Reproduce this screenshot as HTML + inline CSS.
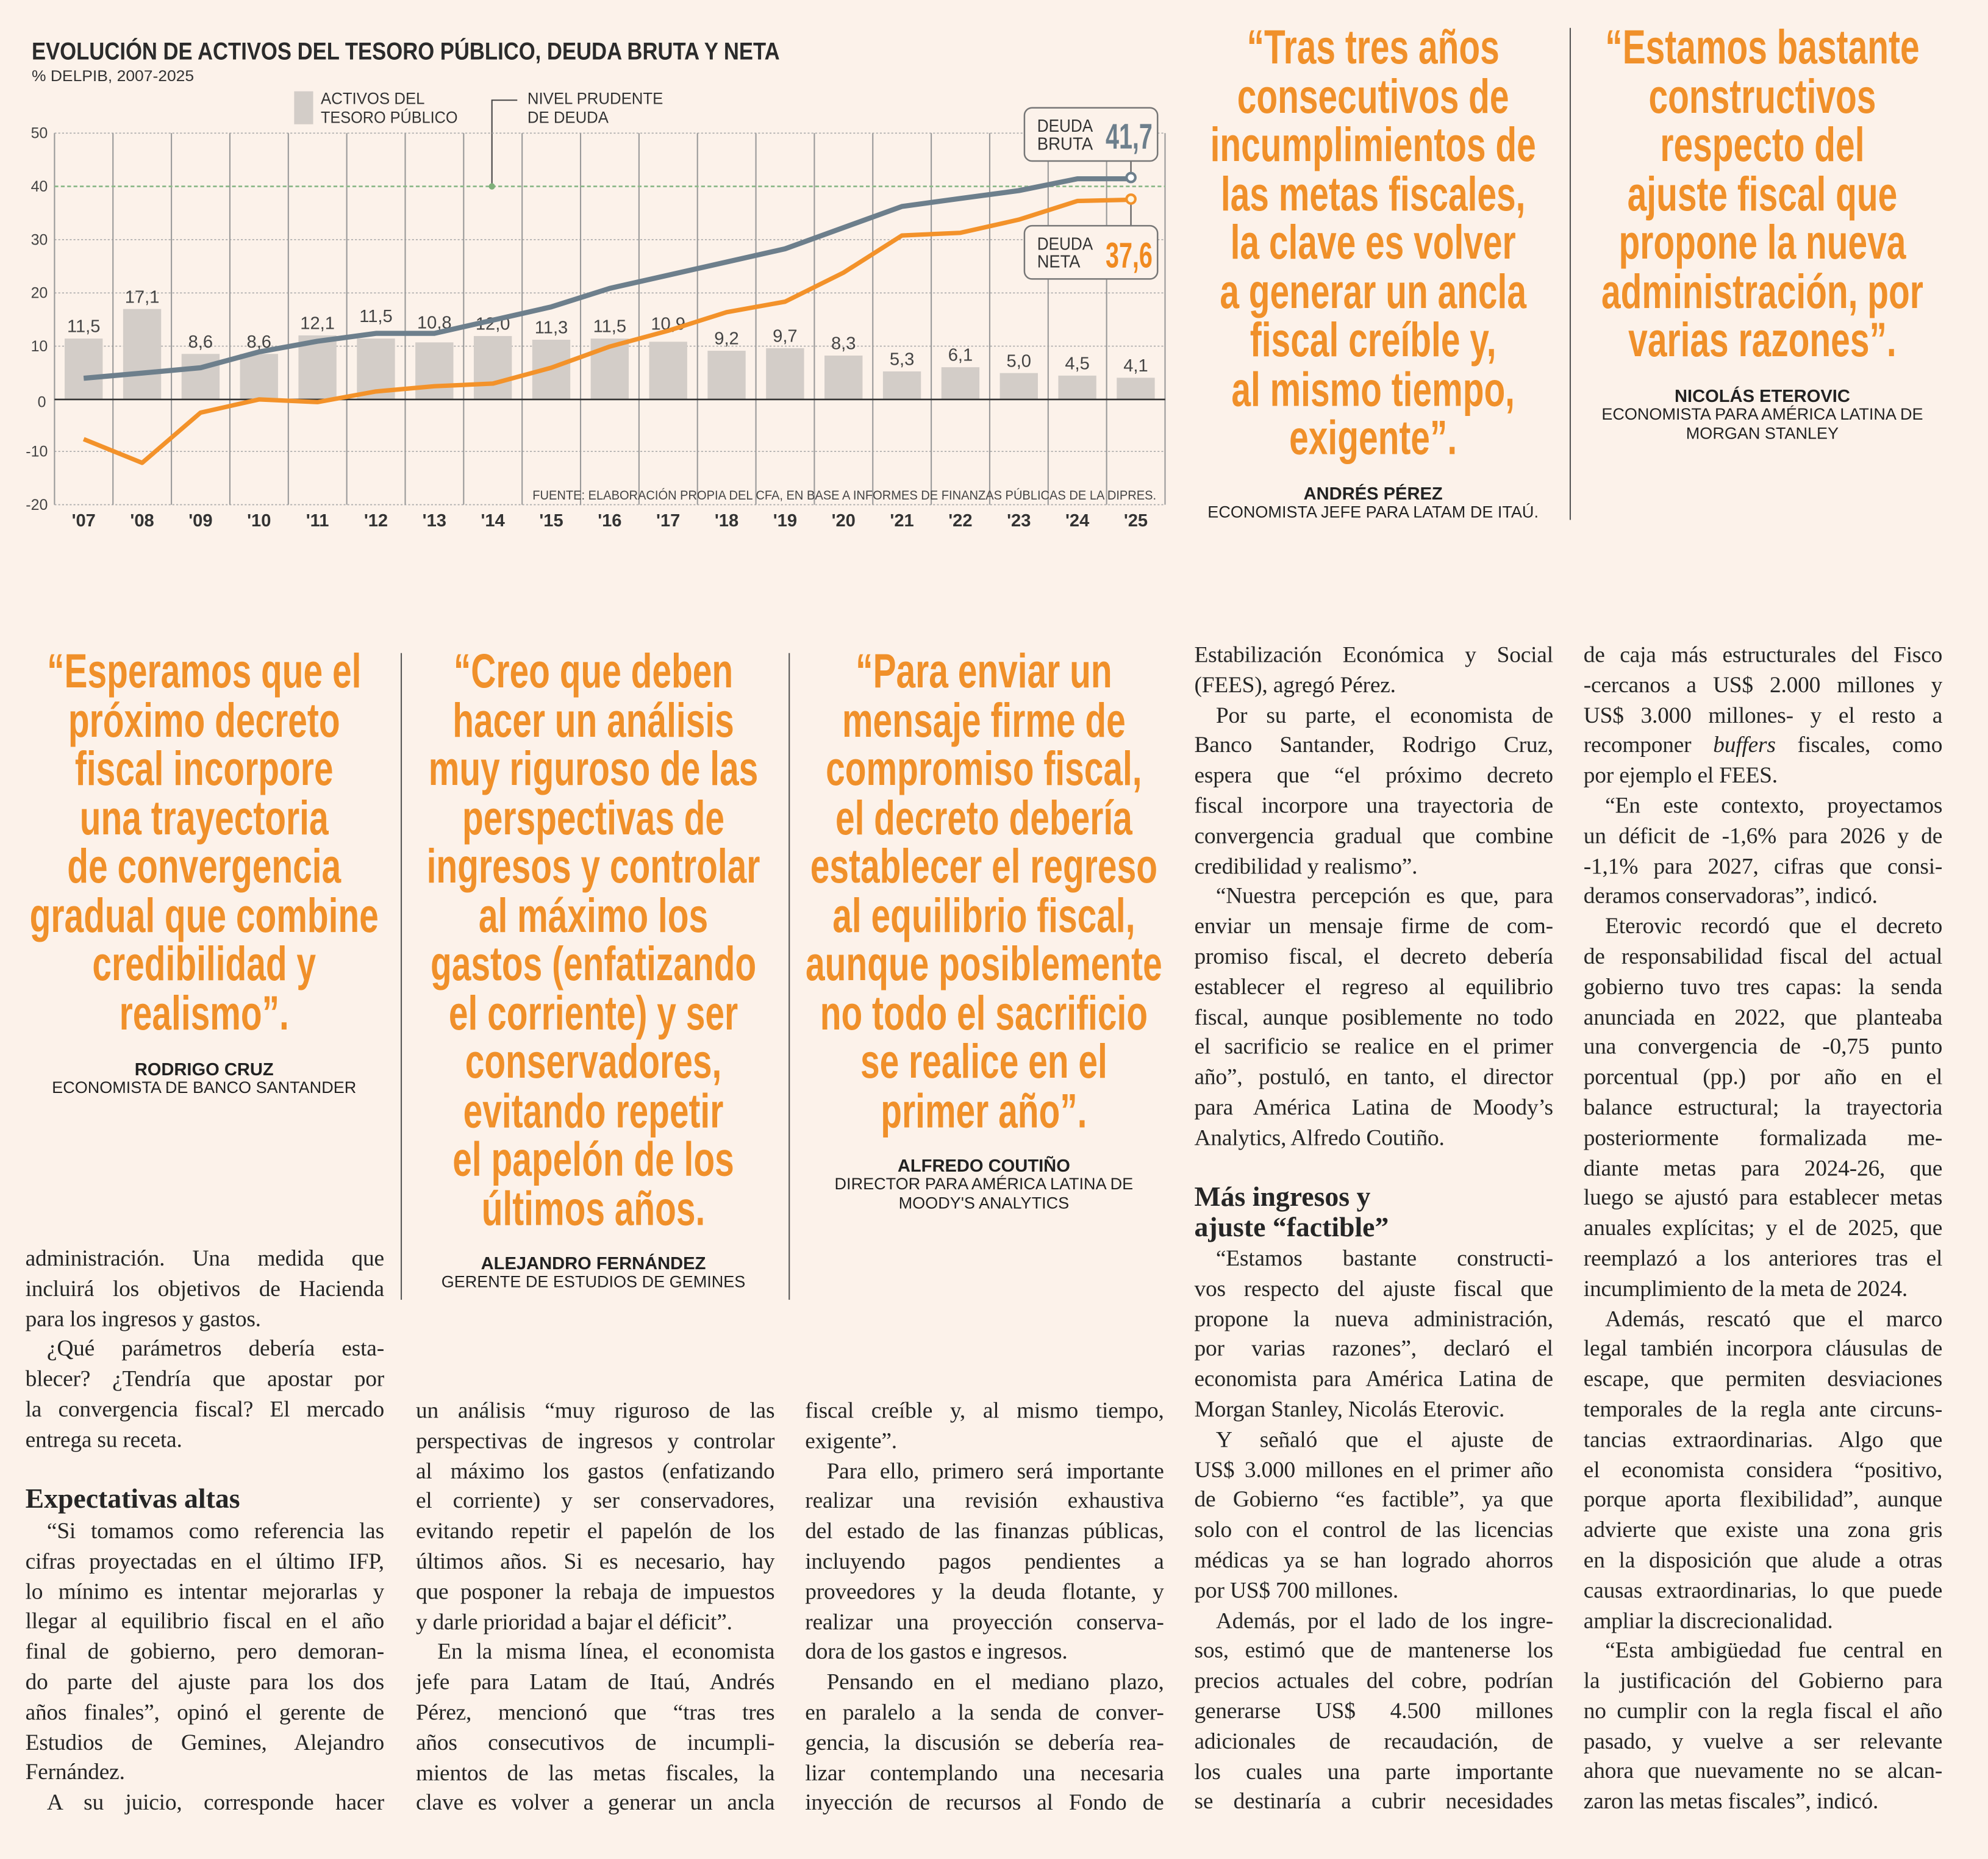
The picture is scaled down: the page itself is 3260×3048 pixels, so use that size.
<!DOCTYPE html>
<html><head><meta charset="utf-8">
<style>
html,body{margin:0;padding:0;background:#fcf2ea;}
body{width:3260px;height:3048px;overflow:hidden;}
#p{position:absolute;left:0;top:0;width:1568px;height:1466px;transform:scale(2.0791);transform-origin:0 0;background:#fcf2ea;overflow:hidden;}
.q{position:absolute;width:500px;text-align:center;color:#f0902a;font-family:"Liberation Sans Narrow","Liberation Sans",sans-serif;font-weight:bold;font-size:38px;}
.q div{height:38.5px;line-height:38.5px;white-space:nowrap;transform:scaleX(0.72);}
.nm{position:absolute;width:320px;text-align:center;font-family:"Liberation Sans","Liberation Sans Narrow",sans-serif;color:#222;}
.nm b{display:block;font-size:14px;line-height:16px;}
.nm span{display:block;font-family:"Liberation Sans Narrow",sans-serif;font-size:13px;line-height:14.5px;}
.c{position:absolute;width:283px;font-family:"Liberation Serif",serif;font-size:18px;color:#262626;letter-spacing:-0.1px;}
.c div{height:23.8px;line-height:23.8px;white-space:nowrap;text-align:justify;text-align-last:justify;overflow:hidden;}
.c div.e{text-align-last:left;}
.c div.i{padding-left:17px;}
.h{position:absolute;font-family:"Liberation Serif",serif;font-weight:bold;font-size:22px;color:#262626;line-height:24px;}
.vs{position:absolute;width:1px;background:#555;}
</style></head><body><div id="p">

<svg width="930" height="430" style="position:absolute;left:0;top:0" font-family="Liberation Sans Narrow, Liberation Sans, sans-serif">
<text x="25" y="47" font-size="19" font-weight="bold" fill="#2b2b2b" textLength="590" lengthAdjust="spacingAndGlyphs">EVOLUCIÓN DE ACTIVOS DEL TESORO PÚBLICO, DEUDA BRUTA Y NETA</text>
<text x="25" y="64" font-size="12" fill="#333" textLength="128" lengthAdjust="spacingAndGlyphs">% DELPIB, 2007-2025</text>
<rect x="232" y="72" width="15" height="26" fill="#d3cdc8"/>
<text x="253" y="82" font-size="13" fill="#333" textLength="82" lengthAdjust="spacingAndGlyphs">ACTIVOS DEL</text>
<text x="253" y="97" font-size="13" fill="#333" textLength="108" lengthAdjust="spacingAndGlyphs">TESORO PÚBLICO</text>
<polyline points="388,147 388,79 408,79" fill="none" stroke="#444" stroke-width="1"/>
<text x="416" y="82" font-size="13" fill="#333" textLength="107" lengthAdjust="spacingAndGlyphs">NIVEL PRUDENTE</text>
<text x="416" y="97" font-size="13" fill="#333" textLength="64" lengthAdjust="spacingAndGlyphs">DE DEUDA</text>
<g stroke="#aaa" stroke-width="0.8" stroke-dasharray="1.5 1.5">
<line x1="43" y1="105" x2="919" y2="105"/><line x1="43" y1="189" x2="919" y2="189"/>
<line x1="43" y1="231" x2="919" y2="231"/><line x1="43" y1="273" x2="919" y2="273"/>
<line x1="43" y1="356" x2="919" y2="356"/><line x1="43" y1="398" x2="919" y2="398"/>
</g>
<g stroke="#999" stroke-width="1">
<line x1="43" y1="105" x2="43" y2="398"/><line x1="89.1" y1="105" x2="89.1" y2="398"/><line x1="135.2" y1="105" x2="135.2" y2="398"/><line x1="181.3" y1="105" x2="181.3" y2="398"/><line x1="227.4" y1="105" x2="227.4" y2="398"/><line x1="273.5" y1="105" x2="273.5" y2="398"/><line x1="319.6" y1="105" x2="319.6" y2="398"/><line x1="365.7" y1="105" x2="365.7" y2="398"/><line x1="411.8" y1="105" x2="411.8" y2="398"/><line x1="457.9" y1="105" x2="457.9" y2="398"/><line x1="504" y1="105" x2="504" y2="398"/><line x1="550.1" y1="105" x2="550.1" y2="398"/><line x1="596.2" y1="105" x2="596.2" y2="398"/><line x1="642.3" y1="105" x2="642.3" y2="398"/><line x1="688.4" y1="105" x2="688.4" y2="398"/><line x1="734.5" y1="105" x2="734.5" y2="398"/><line x1="780.6" y1="105" x2="780.6" y2="398"/><line x1="826.7" y1="105" x2="826.7" y2="398"/><line x1="872.8" y1="105" x2="872.8" y2="398"/><line x1="918.9" y1="105" x2="918.9" y2="398"/>
</g>
<line x1="43" y1="147" x2="919" y2="147" stroke="#8db98a" stroke-width="1.3" stroke-dasharray="3 2"/>
<circle cx="388" cy="147" r="2.5" fill="#7fb07a"/>
<g fill="#d3cdc8">
<rect x="51" y="267" width="30" height="48"/><rect x="97.1" y="243.7" width="30" height="71.3"/><rect x="143.2" y="279.1" width="30" height="35.9"/><rect x="189.3" y="279.1" width="30" height="35.9"/><rect x="235.4" y="264.5" width="30" height="50.5"/><rect x="281.5" y="267" width="30" height="48"/><rect x="327.6" y="270" width="30" height="45"/><rect x="373.7" y="265" width="30" height="50"/><rect x="419.8" y="267.9" width="30" height="47.1"/><rect x="465.9" y="267" width="30" height="48"/><rect x="512" y="269.5" width="30" height="45.5"/><rect x="558.1" y="276.6" width="30" height="38.4"/><rect x="604.2" y="274.6" width="30" height="40.4"/><rect x="650.3" y="280.4" width="30" height="34.6"/><rect x="696.4" y="292.9" width="30" height="22.1"/><rect x="742.5" y="289.6" width="30" height="25.4"/><rect x="788.6" y="294.2" width="30" height="20.8"/><rect x="834.7" y="296.2" width="30" height="18.8"/><rect x="880.8" y="297.9" width="30" height="17.1"/>
</g>
<g font-size="14" fill="#444" text-anchor="middle">
<text x="66" y="262">11,5</text><text x="112.1" y="238.7">17,1</text><text x="158.2" y="274.1">8,6</text><text x="204.3" y="274.1">8,6</text><text x="250.4" y="259.5">12,1</text><text x="296.5" y="254">11,5</text><text x="342.6" y="259">10,8</text><text x="388.7" y="260">12,0</text><text x="434.8" y="262.9">11,3</text><text x="480.9" y="262">11,5</text><text x="527" y="260">10,9</text><text x="573.1" y="271.6">9,2</text><text x="619.2" y="269.6">9,7</text><text x="665.3" y="275.4">8,3</text><text x="711.4" y="287.9">5,3</text><text x="757.5" y="284.6">6,1</text><text x="803.6" y="289.2">5,0</text><text x="849.7" y="291.2">4,5</text><text x="895.8" y="292.9">4,1</text>
</g>
<line x1="43" y1="315" x2="919" y2="315" stroke="#333" stroke-width="1.3"/>
<polyline fill="none" stroke="#6d7f8c" stroke-width="4" stroke-linejoin="round" points="66,298.3 112.1,294.2 158.2,290 204.3,277.5 250.4,269.1 296.5,262.9 342.6,262.9 388.7,252.5 434.8,242 480.9,227.4 527,217 573.1,206.6 619.2,196.2 665.3,179.5 711.4,162.8 757.5,156.5 803.6,150.3 849.7,141 892,141"/>
<polyline fill="none" stroke="#f3922a" stroke-width="3.5" stroke-linejoin="round" points="66,346.3 112.1,365 158.2,325.4 204.3,315 250.4,317.1 296.5,308.7 342.6,304.6 388.7,302.5 434.8,290 480.9,273.3 527,260.8 573.1,246.2 619.2,237.9 665.3,215 711.4,185.7 757.5,183.6 803.6,173.2 849.7,158.5 892,157.5"/>
<line x1="892" y1="127" x2="892" y2="137" stroke="#555"/>
<line x1="892" y1="161" x2="892" y2="178" stroke="#555"/>
<circle cx="892" cy="140" r="3.5" fill="#fff" stroke="#6d7f8c" stroke-width="2"/>
<circle cx="892" cy="157" r="3.5" fill="#fff6e0" stroke="#f3922a" stroke-width="2"/>
<rect x="808" y="85" width="105" height="42" rx="6" fill="#fcf2ea" stroke="#777" stroke-width="1.2"/>
<text x="818" y="104" font-size="14" fill="#333" textLength="44" lengthAdjust="spacingAndGlyphs">DEUDA</text><text x="818" y="118" font-size="14" fill="#333" textLength="44" lengthAdjust="spacingAndGlyphs">BRUTA</text>
<text x="872" y="117" font-size="28" font-weight="bold" fill="#6d7f8c" textLength="37" lengthAdjust="spacingAndGlyphs">41,7</text>
<rect x="808" y="178" width="105" height="42" rx="6" fill="#fcf2ea" stroke="#777" stroke-width="1.2"/>
<text x="818" y="197" font-size="14" fill="#333" textLength="44" lengthAdjust="spacingAndGlyphs">DEUDA</text><text x="818" y="211" font-size="14" fill="#333" textLength="34" lengthAdjust="spacingAndGlyphs">NETA</text>
<text x="872" y="211" font-size="28" font-weight="bold" fill="#f08a20" textLength="37" lengthAdjust="spacingAndGlyphs">37,6</text>
<text x="912" y="394" font-size="10" fill="#444" text-anchor="end" textLength="492" lengthAdjust="spacingAndGlyphs">FUENTE: ELABORACIÓN PROPIA DEL CFA, EN BASE A INFORMES DE FINANZAS PÚBLICAS DE LA DIPRES.</text>
<g font-size="12" fill="#444" text-anchor="middle">
<text x="31" y="109">50</text><text x="31" y="151">40</text><text x="31" y="193">30</text><text x="31" y="235">20</text><text x="31" y="277">10</text><text x="33" y="321">0</text><text x="29" y="360">-10</text><text x="29" y="402">-20</text>
</g>
<g font-size="14" font-weight="bold" fill="#333" text-anchor="middle">
<text x="66" y="415">'07</text><text x="112.1" y="415">'08</text><text x="158.2" y="415">'09</text><text x="204.3" y="415">'10</text><text x="250.4" y="415">'11</text><text x="296.5" y="415">'12</text><text x="342.6" y="415">'13</text><text x="388.7" y="415">'14</text><text x="434.8" y="415">'15</text><text x="480.9" y="415">'16</text><text x="527" y="415">'17</text><text x="573.1" y="415">'18</text><text x="619.2" y="415">'19</text><text x="665.3" y="415">'20</text><text x="711.4" y="415">'21</text><text x="757.5" y="415">'22</text><text x="803.6" y="415">'23</text><text x="849.7" y="415">'24</text><text x="895.8" y="415">'25</text>
</g>
</svg>

<div class="q" style="left:833px;top:19px"><div>“Tras tres años</div><div>consecutivos de</div><div>incumplimientos de</div><div>las metas fiscales,</div><div>la clave es volver</div><div>a generar un ancla</div><div>fiscal creíble y,</div><div>al mismo tiempo,</div><div>exigente”.</div></div>
<div class="nm" style="left:923px;top:381px"><b>ANDRÉS PÉREZ</b><span>ECONOMISTA JEFE PARA LATAM DE ITAÚ.</span></div>
<div class="vs" style="left:1238px;top:22px;height:388px"></div>
<div class="q" style="left:1140px;top:19px"><div>“Estamos bastante</div><div>constructivos</div><div>respecto del</div><div>ajuste fiscal que</div><div>propone la nueva</div><div>administración, por</div><div>varias razones”.</div></div>
<div class="nm" style="left:1230px;top:304px"><b>NICOLÁS ETEROVIC</b><span>ECONOMISTA PARA AMÉRICA LATINA DE</span><span>MORGAN STANLEY</span></div>

<div class="q" style="left:-89px;top:511px"><div>“Esperamos que el</div><div>próximo decreto</div><div>fiscal incorpore</div><div>una trayectoria</div><div>de convergencia</div><div>gradual que combine</div><div>credibilidad y</div><div>realismo”.</div></div>
<div class="nm" style="left:1px;top:835px"><b>RODRIGO CRUZ</b><span>ECONOMISTA DE BANCO SANTANDER</span></div>
<div class="vs" style="left:316px;top:515px;height:510px"></div>
<div class="q" style="left:218px;top:511px"><div>“Creo que deben</div><div>hacer un análisis</div><div>muy riguroso de las</div><div>perspectivas de</div><div>ingresos y controlar</div><div>al máximo los</div><div>gastos (enfatizando</div><div>el corriente) y ser</div><div>conservadores,</div><div>evitando repetir</div><div>el papelón de los</div><div>últimos años.</div></div>
<div class="nm" style="left:308px;top:988px"><b>ALEJANDRO FERNÁNDEZ</b><span>GERENTE DE ESTUDIOS DE GEMINES</span></div>
<div class="vs" style="left:622px;top:515px;height:510px"></div>
<div class="q" style="left:526px;top:511px"><div>“Para enviar un</div><div>mensaje firme de</div><div>compromiso fiscal,</div><div>el decreto debería</div><div>establecer el regreso</div><div>al equilibrio fiscal,</div><div>aunque posiblemente</div><div>no todo el sacrificio</div><div>se realice en el</div><div>primer año”.</div></div>
<div class="nm" style="left:616px;top:911px"><b>ALFREDO COUTIÑO</b><span>DIRECTOR PARA AMÉRICA LATINA DE</span><span>MOODY'S ANALYTICS</span></div>

<div class="c" style="left:20px;top:981px">
<div>administración. Una medida que</div><div>incluirá los objetivos de Hacienda</div><div class="e">para los ingresos y gastos.</div><div class="i">¿Qué parámetros debería esta-</div><div>blecer? ¿Tendría que apostar por</div><div>la convergencia fiscal? El mercado</div><div class="e">entrega su receta.</div></div>
<div class="h" style="left:20px;top:1170px">Expectativas altas</div>
<div class="c" style="left:20px;top:1196px">
<div class="i">“Si tomamos como referencia las</div><div>cifras proyectadas en el último IFP,</div><div>lo mínimo es intentar mejorarlas y</div><div>llegar al equilibrio fiscal en el año</div><div>final de gobierno, pero demoran-</div><div>do parte del ajuste para los dos</div><div>años finales”, opinó el gerente de</div><div>Estudios de Gemines, Alejandro</div><div class="e">Fernández.</div><div class="i">A su juicio, corresponde hacer</div></div>

<div class="c" style="left:328px;top:1101px">
<div>un análisis “muy riguroso de las</div><div>perspectivas de ingresos y controlar</div><div>al máximo los gastos (enfatizando</div><div>el corriente) y ser conservadores,</div><div>evitando repetir el papelón de los</div><div>últimos años. Si es necesario, hay</div><div>que posponer la rebaja de impuestos</div><div class="e">y darle prioridad a bajar el déficit”.</div><div class="i">En la misma línea, el economista</div><div>jefe para Latam de Itaú, Andrés</div><div>Pérez, mencionó que “tras tres</div><div>años consecutivos de incumpli-</div><div>mientos de las metas fiscales, la</div><div>clave es volver a generar un ancla</div></div>

<div class="c" style="left:635px;top:1101px">
<div>fiscal creíble y, al mismo tiempo,</div><div class="e">exigente”.</div><div class="i">Para ello, primero será importante</div><div>realizar una revisión exhaustiva</div><div>del estado de las finanzas públicas,</div><div>incluyendo pagos pendientes a</div><div>proveedores y la deuda flotante, y</div><div>realizar una proyección conserva-</div><div class="e">dora de los gastos e ingresos.</div><div class="i">Pensando en el mediano plazo,</div><div>en paralelo a la senda de conver-</div><div>gencia, la discusión se debería rea-</div><div>lizar contemplando una necesaria</div><div>inyección de recursos al Fondo de</div></div>

<div class="c" style="left:942px;top:505px">
<div>Estabilización Económica y Social</div><div class="e">(FEES), agregó Pérez.</div><div class="i">Por su parte, el economista de</div><div>Banco Santander, Rodrigo Cruz,</div><div>espera que “el próximo decreto</div><div>fiscal incorpore una trayectoria de</div><div>convergencia gradual que combine</div><div class="e">credibilidad y realismo”.</div><div class="i">“Nuestra percepción es que, para</div><div>enviar un mensaje firme de com-</div><div>promiso fiscal, el decreto debería</div><div>establecer el regreso al equilibrio</div><div>fiscal, aunque posiblemente no todo</div><div>el sacrificio se realice en el primer</div><div>año”, postuló, en tanto, el director</div><div>para América Latina de Moody’s</div><div class="e">Analytics, Alfredo Coutiño.</div></div>
<div class="h" style="left:942px;top:932px">Más ingresos y<br>ajuste “factible”</div>
<div class="c" style="left:942px;top:981px">
<div class="i">“Estamos bastante constructi-</div><div>vos respecto del ajuste fiscal que</div><div>propone la nueva administración,</div><div>por varias razones”, declaró el</div><div>economista para América Latina de</div><div class="e">Morgan Stanley, Nicolás Eterovic.</div><div class="i">Y señaló que el ajuste de</div><div>US$ 3.000 millones en el primer año</div><div>de Gobierno “es factible”, ya que</div><div>solo con el control de las licencias</div><div>médicas ya se han logrado ahorros</div><div class="e">por US$ 700 millones.</div><div class="i">Además, por el lado de los ingre-</div><div>sos, estimó que de mantenerse los</div><div>precios actuales del cobre, podrían</div><div>generarse US$ 4.500 millones</div><div>adicionales de recaudación, de</div><div>los cuales una parte importante</div><div>se destinaría a cubrir necesidades</div></div>

<div class="c" style="left:1249px;top:505px">
<div>de caja más estructurales del Fisco</div><div>-cercanos a US$ 2.000 millones y</div><div>US$ 3.000 millones- y el resto a</div><div>recomponer <i>buffers</i> fiscales, como</div><div class="e">por ejemplo el FEES.</div><div class="i">“En este contexto, proyectamos</div><div>un déficit de -1,6% para 2026 y de</div><div>-1,1% para 2027, cifras que consi-</div><div class="e">deramos conservadoras”, indicó.</div><div class="i">Eterovic recordó que el decreto</div><div>de responsabilidad fiscal del actual</div><div>gobierno tuvo tres capas: la senda</div><div>anunciada en 2022, que planteaba</div><div>una convergencia de -0,75 punto</div><div>porcentual (pp.) por año en el</div><div>balance estructural; la trayectoria</div><div>posteriormente formalizada me-</div><div>diante metas para 2024-26, que</div><div>luego se ajustó para establecer metas</div><div>anuales explícitas; y el de 2025, que</div><div>reemplazó a los anteriores tras el</div><div class="e">incumplimiento de la meta de 2024.</div><div class="i">Además, rescató que el marco</div><div>legal también incorpora cláusulas de</div><div>escape, que permiten desviaciones</div><div>temporales de la regla ante circuns-</div><div>tancias extraordinarias. Algo que</div><div>el economista considera “positivo,</div><div>porque aporta flexibilidad”, aunque</div><div>advierte que existe una zona gris</div><div>en la disposición que alude a otras</div><div>causas extraordinarias, lo que puede</div><div class="e">ampliar la discrecionalidad.</div><div class="i">“Esta ambigüedad fue central en</div><div>la justificación del Gobierno para</div><div>no cumplir con la regla fiscal el año</div><div>pasado, y vuelve a ser relevante</div><div>ahora que nuevamente no se alcan-</div><div class="e">zaron las metas fiscales”, indicó.</div></div>

</div></body></html>
